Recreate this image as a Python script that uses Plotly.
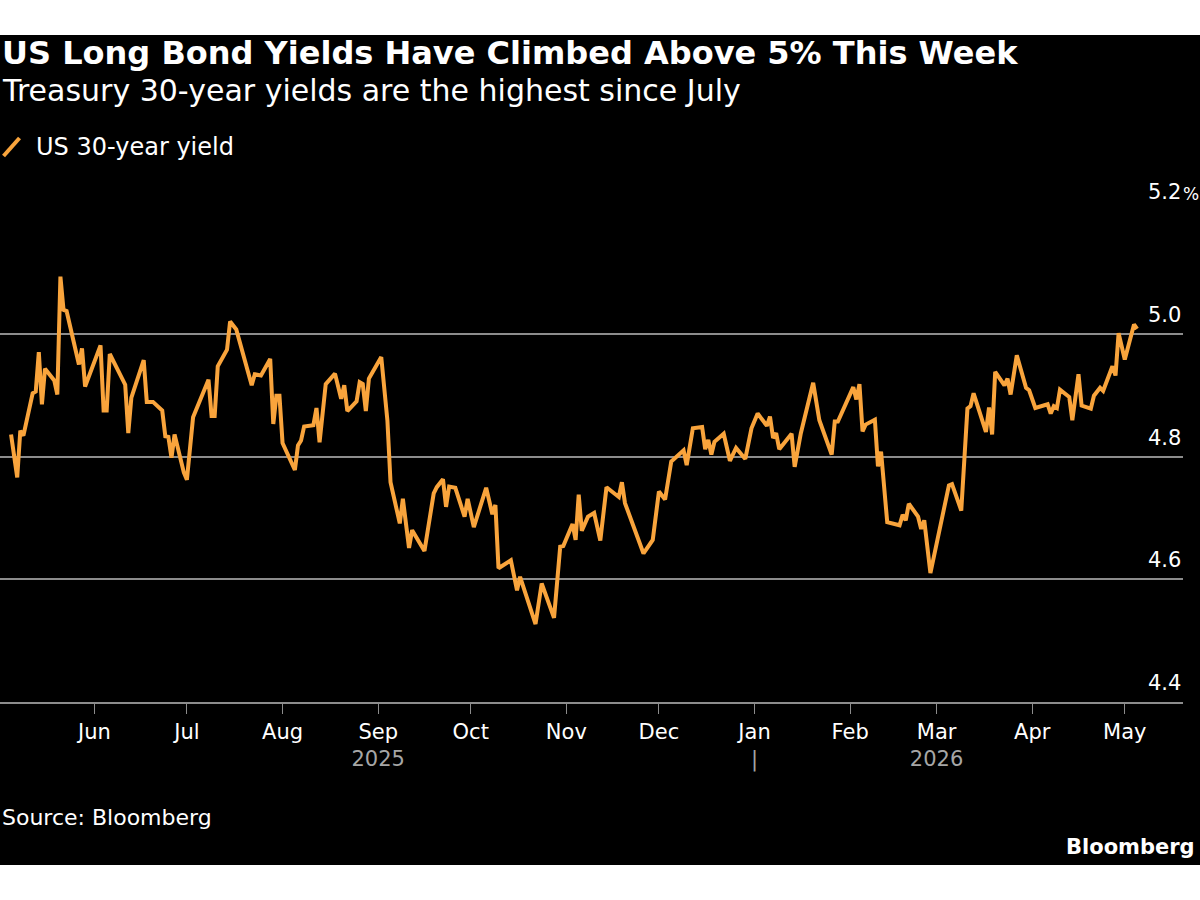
import plotly.graph_objects as go

# US 30-year Treasury yield (dates, percent)
dates = [
    "2025-05-05", "2025-05-07", "2025-05-08", "2025-05-09", "2025-05-12", "2025-05-13",
    "2025-05-14", "2025-05-15", "2025-05-16", "2025-05-19", "2025-05-20", "2025-05-21",
    "2025-05-22", "2025-05-23", "2025-05-27", "2025-05-28", "2025-05-29", "2025-06-03",
    "2025-06-04", "2025-06-05", "2025-06-06", "2025-06-11", "2025-06-12", "2025-06-13",
    "2025-06-17", "2025-06-18", "2025-06-20", "2025-06-23", "2025-06-24", "2025-06-25",
    "2025-06-26", "2025-06-27", "2025-06-30", "2025-07-01", "2025-07-03", "2025-07-08",
    "2025-07-09", "2025-07-10", "2025-07-11", "2025-07-14", "2025-07-15", "2025-07-17",
    "2025-07-22", "2025-07-23", "2025-07-25", "2025-07-28", "2025-07-29", "2025-07-30",
    "2025-07-31", "2025-08-01", "2025-08-05", "2025-08-06", "2025-08-07", "2025-08-08",
    "2025-08-11", "2025-08-12", "2025-08-13", "2025-08-15", "2025-08-18", "2025-08-20",
    "2025-08-21", "2025-08-22", "2025-08-25", "2025-08-26", "2025-08-27", "2025-08-28",
    "2025-08-29", "2025-09-02", "2025-09-04", "2025-09-05", "2025-09-08", "2025-09-09",
    "2025-09-11", "2025-09-12", "2025-09-16", "2025-09-19", "2025-09-20", "2025-09-22",
    "2025-09-23", "2025-09-24", "2025-09-26", "2025-09-29", "2025-09-30", "2025-10-02",
    "2025-10-06", "2025-10-08", "2025-10-09", "2025-10-10", "2025-10-14", "2025-10-16",
    "2025-10-17", "2025-10-20", "2025-10-22", "2025-10-24", "2025-10-28", "2025-10-30",
    "2025-10-31", "2025-11-03", "2025-11-04", "2025-11-05", "2025-11-06", "2025-11-08",
    "2025-11-10", "2025-11-12", "2025-11-14", "2025-11-18", "2025-11-19", "2025-11-20",
    "2025-11-26", "2025-11-29", "2025-12-01", "2025-12-03", "2025-12-05", "2025-12-09",
    "2025-12-10", "2025-12-12", "2025-12-15", "2025-12-16", "2025-12-17", "2025-12-18",
    "2025-12-19", "2025-12-22", "2025-12-24", "2025-12-26", "2025-12-29", "2025-12-31",
    "2026-01-02", "2026-01-05", "2026-01-06", "2026-01-07", "2026-01-08", "2026-01-09",
    "2026-01-13", "2026-01-14", "2026-01-16", "2026-01-20", "2026-01-22", "2026-01-26",
    "2026-01-27", "2026-01-28", "2026-02-02", "2026-02-03", "2026-02-04", "2026-02-05",
    "2026-02-06", "2026-02-09", "2026-02-10", "2026-02-11", "2026-02-13", "2026-02-17",
    "2026-02-18", "2026-02-19", "2026-02-20", "2026-02-23", "2026-02-24", "2026-02-25",
    "2026-02-27", "2026-03-05", "2026-03-06", "2026-03-09", "2026-03-11", "2026-03-12",
    "2026-03-13", "2026-03-17", "2026-03-18", "2026-03-19", "2026-03-20", "2026-03-23",
    "2026-03-24", "2026-03-25", "2026-03-27", "2026-03-30", "2026-03-31", "2026-04-02",
    "2026-04-06", "2026-04-07", "2026-04-08", "2026-04-09", "2026-04-10", "2026-04-13",
    "2026-04-14", "2026-04-16", "2026-04-17", "2026-04-20", "2026-04-21", "2026-04-23",
    "2026-04-24", "2026-04-27", "2026-04-28", "2026-04-29", "2026-05-01", "2026-05-04",
    "2026-05-05",
]
yields = [
    4.836, 4.766, 4.842, 4.834, 4.903, 4.906,
    4.970, 4.885, 4.943, 4.924, 4.901, 5.093,
    5.039, 5.037, 4.950, 4.976, 4.914, 4.981,
    4.875, 4.875, 4.967, 4.917, 4.838, 4.896,
    4.957, 4.889, 4.889, 4.875, 4.833, 4.832,
    4.798, 4.836, 4.774, 4.762, 4.864, 4.925,
    4.866, 4.866, 4.947, 4.974, 5.020, 5.007,
    4.916, 4.934, 4.932, 4.959, 4.853, 4.899,
    4.899, 4.822, 4.778, 4.818, 4.826, 4.849,
    4.851, 4.879, 4.823, 4.918, 4.935, 4.894,
    4.916, 4.874, 4.890, 4.921, 4.918, 4.874,
    4.927, 4.962, 4.858, 4.758, 4.691, 4.731,
    4.651, 4.680, 4.646, 4.740, 4.750, 4.763,
    4.718, 4.751, 4.749, 4.702, 4.731, 4.685,
    4.749, 4.706, 4.721, 4.618, 4.631, 4.582,
    4.604, 4.559, 4.527, 4.593, 4.537, 4.653,
    4.654, 4.690, 4.664, 4.738, 4.679, 4.702,
    4.708, 4.663, 4.750, 4.734, 4.758, 4.724,
    4.642, 4.664, 4.743, 4.730, 4.792, 4.810,
    4.786, 4.846, 4.848, 4.812, 4.827, 4.803,
    4.824, 4.837, 4.793, 4.814, 4.796, 4.846,
    4.870, 4.850, 4.865, 4.830, 4.838, 4.812,
    4.837, 4.783, 4.838, 4.920, 4.859, 4.803,
    4.857, 4.857, 4.913, 4.893, 4.918, 4.841,
    4.852, 4.860, 4.784, 4.808, 4.693, 4.688,
    4.705, 4.696, 4.723, 4.702, 4.682, 4.696,
    4.610, 4.753, 4.755, 4.712, 4.878, 4.882,
    4.903, 4.840, 4.880, 4.836, 4.938, 4.916,
    4.927, 4.901, 4.965, 4.912, 4.908, 4.879,
    4.885, 4.870, 4.882, 4.879, 4.909, 4.897,
    4.859, 4.934, 4.883, 4.878, 4.899, 4.912,
    4.907, 4.947, 4.932, 5.001, 4.958, 5.015,
    5.008,
]

month_ticks = ["2025-06-01", "2025-07-01", "2025-08-01", "2025-09-01", "2025-10-01",
               "2025-11-01", "2025-12-01", "2026-01-01", "2026-02-01", "2026-03-01",
               "2026-04-01", "2026-05-01"]
month_labels = ["Jun", "Jul", "Aug", "Sep<br><span style='color:#a6a6a6'>2025</span>", "Oct",
                "Nov", "Dec", "Jan<br><span style='color:#a6a6a6'>|</span>", "Feb",
                "Mar<br><span style='color:#a6a6a6'>2026</span>", "Apr", "May"]
y_ticks = [4.4, 4.6, 4.8, 5.0, 5.2]
y_labels = ["4.4", "4.6", "4.8", "5.0", "5.2"]

orange = "#f9a43c"
grid = "#8c8c8c"
font = "DejaVu Sans"

fig = go.Figure()
fig.add_trace(go.Scatter(x=dates, y=yields, mode="lines", name="US 30-year yield",
                         line=dict(color=orange, width=4), showlegend=False))

# black card behind the chart
fig.add_shape(type="rect", xref="paper", yref="paper", x0=-0.02, x1=1.03,
              y0=-0.332, y1=1.3585, fillcolor="black", line_width=0, layer="below")

# right-hand y labels sitting above their gridlines
for v, t in zip(y_ticks, y_labels):
    fig.add_annotation(x=1.0, y=v, xref="paper", yref="y", text=t, showarrow=False,
                       xanchor="right", yanchor="bottom", yshift=5,
                       font=dict(color="white", size=21, family=font))
fig.add_annotation(x=1.0, y=5.2, xref="paper", yref="y", text="%", showarrow=False,
                   xanchor="left", yanchor="bottom", yshift=5, xshift=-2,
                   font=dict(color="white", size=17, family=font))

# legend: slanted orange stroke + label
fig.add_shape(type="line", xref="paper", yref="paper", x0=0.003, x1=0.0165,
              y0=1.112, y1=1.1487, line=dict(color=orange, width=4))
fig.add_annotation(x=0.029, y=1.1303, xref="paper", yref="paper", text="US 30-year yield",
                   showarrow=False, xanchor="left", yanchor="middle",
                   font=dict(color="white", size=24, family=font))

fig.add_annotation(x=0, y=1.3225, xref="paper", yref="paper",
                   text="<b>US Long Bond Yields Have Climbed Above 5% This Week</b>",
                   showarrow=False, xanchor="left", yanchor="middle",
                   font=dict(color="white", size=32, family=font))
fig.add_annotation(x=0, y=1.2445, xref="paper", yref="paper",
                   text="Treasury 30-year yields are the highest since July",
                   showarrow=False, xanchor="left", yanchor="middle",
                   font=dict(color="white", size=30, family=font))
fig.add_annotation(x=0, y=-0.2345, xref="paper", yref="paper", text="Source: Bloomberg",
                   showarrow=False, xanchor="left", yanchor="middle",
                   font=dict(color="white", size=22, family=font))
fig.add_annotation(x=1.0118, y=-0.2945, xref="paper", yref="paper", text="<b>Bloomberg</b>",
                   showarrow=False, xanchor="right", yanchor="middle",
                   font=dict(color="white", size=21, family=font))

fig.update_layout(
    width=1200, height=900,
    margin=dict(l=0, r=17, t=211, b=198),
    paper_bgcolor="white", plot_bgcolor="black",
    font=dict(family=font, color="white", size=21),
    xaxis=dict(range=["2025-05-01 10:00", "2026-05-19 21:00"], tickvals=month_ticks,
               ticktext=month_labels, showgrid=False, showline=True, linecolor=grid,
               linewidth=1.5, ticks="outside", ticklen=10, tickcolor=grid,
               tickfont=dict(color="white", size=21), zeroline=False),
    yaxis=dict(range=[4.4, 5.2], tickvals=y_ticks, showticklabels=False, showgrid=True,
               gridcolor=grid, gridwidth=1.5, zeroline=False, fixedrange=True),
)

fig.write_html("out.html", config={"displayModeBar": False},
               post_script="document.body.style.margin='0';")
